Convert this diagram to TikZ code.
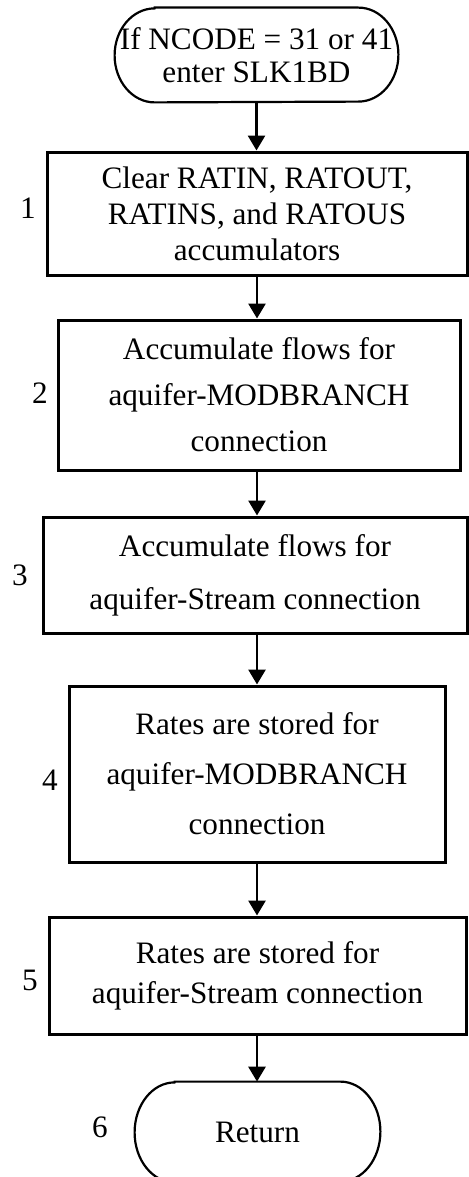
\documentclass[tikz,border=0pt]{standalone}
\usepackage{fontspec}
\setmainfont{Liberation Serif}
\usetikzlibrary{arrows.meta}
\tikzset{
  stepbox/.style={draw, line width=1.5pt, align=center, inner sep=0pt},
  termbox/.style={align=center, inner sep=0pt},
  termline/.style={line width=1.1pt},
  steplabel/.style={inner sep=0pt, font=\fontsize{15.6}{18}\selectfont},
  flow/.style={line width=1.4pt, -{Triangle[length=7.5pt,width=8.5pt]}}
}
\begin{document}
\begin{tikzpicture}[x=0.5pt,y=0.5pt]
	\useasboundingbox (0,0) rectangle (468,-1177);
	% start terminal
	\node[termbox, minimum width=141.5pt, minimum height=47pt, font=\fontsize{15.6}{16.5}\selectfont] (start) at (256.5,-55) {If NCODE = 31 or 41\\enter SLK1BD};
	\draw[termline] ([xshift=20pt]start.north west) -- ([xshift=-20pt]start.north east)
		arc[start angle=90, end angle=-90, x radius=20pt, y radius=23.5pt]
		-- ([xshift=20pt]start.south west)
		arc[start angle=270, end angle=90, x radius=20pt, y radius=23.5pt] -- cycle;
	% steps
	\node[stepbox, minimum width=210pt, minimum height=61.5pt, font=\fontsize{15.6}{18}\selectfont] (b1) at (257,-213.5) {Clear RATIN, RATOUT,\\RATINS, and RATOUS\\accumulators};
	\node[stepbox, minimum width=201pt, minimum height=75pt, font=\fontsize{15.6}{23}\selectfont] (b2) at (259,-395) {Accumulate flows for\\aquifer-MODBRANCH\\connection};
	\node[stepbox, minimum width=212pt, minimum height=58pt, font=\fontsize{15.6}{26.5}\selectfont] (b3) at (255,-575) {Accumulate flows for\\aquifer-Stream connection};
	\node[stepbox, minimum width=188pt, minimum height=88pt, font=\fontsize{15.6}{25}\selectfont] (b4) at (257,-774) {Rates are stored for\\aquifer-MODBRANCH\\connection};
	\node[stepbox, minimum width=208.5pt, minimum height=58.5pt, font=\fontsize{15.6}{20}\selectfont] (b5) at (257.5,-975.5) {Rates are stored for\\aquifer-Stream connection};
	% return terminal, runs off the bottom edge
	\node[termbox, minimum width=122.5pt, minimum height=50pt, font=\fontsize{15.6}{18}\selectfont] (ret) at (257.5,-1132) {Return};
	\draw[termline] ([xshift=20pt]ret.north west) -- ([xshift=-20pt]ret.north east)
		arc[start angle=90, end angle=-90, x radius=20pt, y radius=25pt]
		-- ([xshift=20pt]ret.south west)
		arc[start angle=270, end angle=90, x radius=20pt, y radius=25pt] -- cycle;
	% step numbers
	\node[steplabel] (n1) at (28,-208) {1};
	\node[steplabel] (n2) at (40,-393) {2};
	\node[steplabel] (n3) at (20,-575) {3};
	\node[steplabel] (n4) at (50,-780) {4};
	\node[steplabel] (n5) at (30,-980) {5};
	\node[steplabel] (n6) at (100,-1127) {6};
	% arrows
	\draw[flow] (start.south) -- (start.south |- b1.north);
	\draw[flow] (b1.south) -- (b1.south |- b2.north);
	\draw[flow] (b1.south |- b2.south) -- (b1.south |- b3.north);
	\draw[flow] (b1.south |- b3.south) -- (b1.south |- b4.north);
	\draw[flow] (b4.south) -- (b4.south |- b5.north);
	\draw[flow] (b4.south |- b5.south) -- (b4.south |- ret.north);
\end{tikzpicture}
\end{document}
